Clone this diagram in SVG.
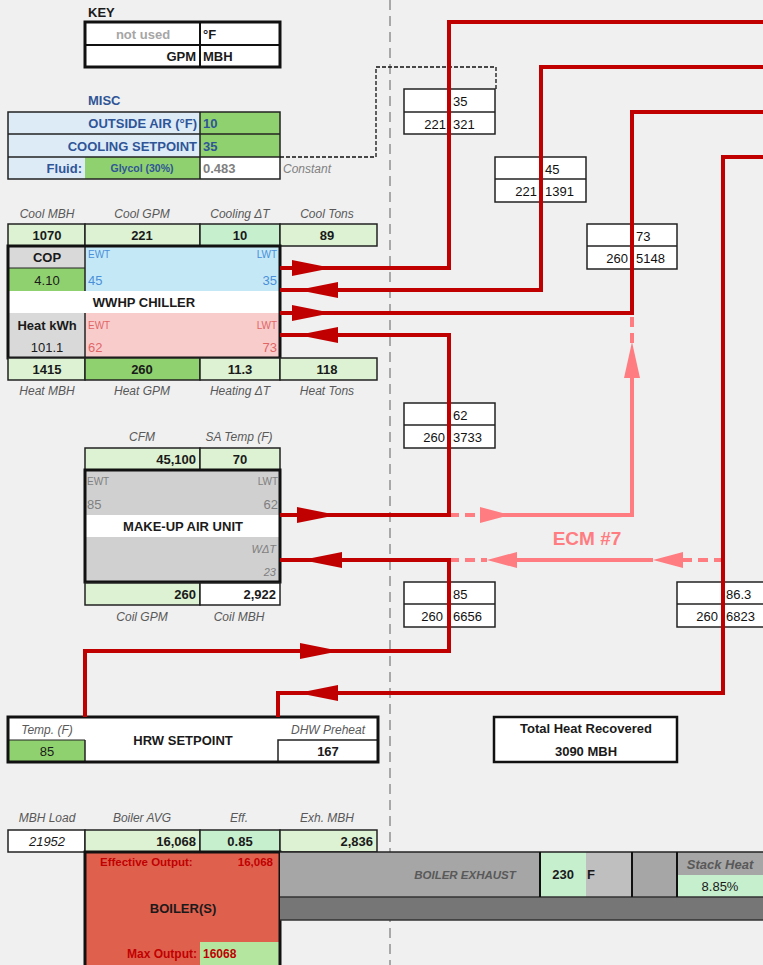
<svg xmlns="http://www.w3.org/2000/svg" width="763" height="965" viewBox="0 0 763 965">
<style>
text{font-family:"Liberation Sans",Arial,sans-serif;}
.b{font-weight:bold;font-size:13px;fill:#1a1a1a;}
.lbl{font-style:italic;font-size:12px;fill:#595959;}
.cell{stroke:#222;stroke-width:1.5;}
.thick{fill:none;stroke:#111;stroke-width:3;}
.lg{fill:#dcf2d3;}
.mg{fill:#c6efce;}
.g{fill:#8fd16e;}
.red{fill:none;stroke:#c00000;stroke-width:4;}
.pink{fill:none;stroke:#ff7c80;stroke-width:4;}
.pdash{fill:none;stroke:#ff7c80;stroke-width:4;stroke-dasharray:10 6;}
.box text{font-size:13px;fill:#111;}
.mid{text-anchor:middle;}
.end{text-anchor:end;}
</style>
<defs>
<polygon id="ah" points="0,-8 40,0 0,8"/>
</defs>
<rect x="0" y="0" width="763" height="965" fill="#f0f0f0"/>
<line x1="390" y1="0" x2="390" y2="965" stroke="#a8a8a8" stroke-width="2" stroke-dasharray="10 6"/>

<g id="key">
<text x="88" y="17" class="b" font-size="14">KEY</text>
<rect x="85" y="22" width="195" height="45" fill="#fff"/>
<line x1="85" y1="45" x2="280" y2="45" stroke="#111" stroke-width="2"/>
<line x1="200" y1="22" x2="200" y2="67" stroke="#111" stroke-width="2"/>
<rect x="85" y="22" width="195" height="45" class="thick"/>
<text x="143" y="39" class="b mid" style="fill:#a6a6a6">not used</text>
<text x="203" y="39" class="b">°F</text>
<text x="196" y="61" class="b end">GPM</text>
<text x="203" y="61" class="b">MBH</text>
</g>

<g id="misc">
<text x="88" y="105" class="b" font-size="14" style="fill:#2f5597">MISC</text>
<rect x="8" y="112" width="192" height="67" fill="#ddebf7"/>
<rect x="200" y="112" width="80" height="45" class="g"/>
<rect x="85" y="157" width="115" height="22" class="g"/>
<rect x="200" y="157" width="80" height="22" fill="#fff"/>
<rect x="8" y="112" width="272" height="67" fill="none" stroke="#222" stroke-width="1.5"/>
<line x1="8" y1="134" x2="280" y2="134" stroke="#222" stroke-width="1.5"/>
<line x1="8" y1="157" x2="280" y2="157" stroke="#222" stroke-width="1.5"/>
<line x1="200" y1="112" x2="200" y2="179" stroke="#222" stroke-width="1.5"/>
<text x="197" y="128" class="b end" font-size="12" style="fill:#2f5597">OUTSIDE AIR (°F)</text>
<text x="203" y="128" class="b" font-size="12" style="fill:#2f5597">10</text>
<text x="197" y="151" class="b end" font-size="12" style="fill:#2f5597">COOLING SETPOINT</text>
<text x="203" y="151" class="b" font-size="12" style="fill:#2f5597">35</text>
<text x="82" y="173" class="b end" style="fill:#2f5597">Fluid:</text>
<text x="142" y="172" class="mid" font-size="10.5" font-weight="bold" fill="#2f5597">Glycol (30%)</text>
<text x="203" y="173" class="b" style="fill:#808080">0.483</text>
<text x="283" y="173" class="lbl" font-size="10.5" style="fill:#808080">Constant</text>
</g>

<g id="chiller">
<text x="47" y="218" class="lbl mid">Cool MBH</text>
<text x="142" y="218" class="lbl mid">Cool GPM</text>
<text x="240" y="218" class="lbl mid">Cooling ΔT</text>
<text x="327" y="218" class="lbl mid">Cool Tons</text>
<rect x="8" y="224" width="77" height="22" class="lg cell"/>
<rect x="85" y="224" width="115" height="22" class="lg cell"/>
<rect x="200" y="224" width="80" height="22" class="mg cell"/>
<rect x="280" y="224" width="97" height="22" class="lg cell"/>
<text x="47" y="240" class="b mid">1070</text>
<text x="142" y="240" class="b mid">221</text>
<text x="240" y="240" class="b mid">10</text>
<text x="327" y="240" class="b mid">89</text>
<rect x="8" y="246" width="77" height="22" fill="#d9d9d9"/>
<rect x="8" y="268" width="77" height="23" class="g"/>
<rect x="85" y="246" width="195" height="45" fill="#c5e8f7"/>
<rect x="8" y="291" width="272" height="22" fill="#fff"/>
<rect x="8" y="313" width="77" height="45" fill="#d9d9d9"/>
<rect x="85" y="313" width="195" height="45" fill="#f9cccc"/>
<line x1="85" y1="246" x2="85" y2="291" stroke="#222" stroke-width="1.5"/>
<line x1="85" y1="313" x2="85" y2="358" stroke="#222" stroke-width="1.5"/>
<line x1="8" y1="268" x2="85" y2="268" stroke="#222" stroke-width="1"/>
<rect x="8" y="246" width="272" height="112" class="thick"/>
<text x="47" y="262" class="b mid">COP</text>
<text x="47" y="285" class="mid" font-size="13" fill="#1a1a1a">4.10</text>
<text x="88" y="258" font-size="10" fill="#4a90d9">EWT</text>
<text x="277" y="258" font-size="10" fill="#4a90d9" class="end">LWT</text>
<text x="88" y="285" font-size="13" fill="#4a90d9">45</text>
<text x="277" y="285" font-size="13" fill="#4a90d9" class="end">35</text>
<text x="144" y="307" class="b mid">WWHP CHILLER</text>
<text x="47" y="330" class="b mid">Heat kWh</text>
<text x="47" y="352" class="mid" font-size="13" fill="#1a1a1a">101.1</text>
<text x="88" y="329" font-size="10" fill="#e06666">EWT</text>
<text x="277" y="329" font-size="10" fill="#e06666" class="end">LWT</text>
<text x="88" y="352" font-size="13" fill="#e06666">62</text>
<text x="277" y="352" font-size="13" fill="#e06666" class="end">73</text>
<rect x="8" y="358" width="77" height="22" class="lg cell"/>
<rect x="85" y="358" width="115" height="22" class="g cell"/>
<rect x="200" y="358" width="80" height="22" class="lg cell"/>
<rect x="280" y="358" width="97" height="22" class="lg cell"/>
<text x="47" y="374" class="b mid">1415</text>
<text x="142" y="374" class="b mid">260</text>
<text x="240" y="374" class="b mid">11.3</text>
<text x="327" y="374" class="b mid">118</text>
<text x="47" y="395" class="lbl mid">Heat MBH</text>
<text x="142" y="395" class="lbl mid">Heat GPM</text>
<text x="240" y="395" class="lbl mid">Heating ΔT</text>
<text x="327" y="395" class="lbl mid">Heat Tons</text>
</g>

<g id="mau">
<text x="142" y="441" class="lbl mid" font-size="11">CFM</text>
<text x="239" y="441" class="lbl mid" font-size="11">SA Temp (F)</text>
<rect x="85" y="448" width="115" height="22" class="lg cell"/>
<rect x="200" y="448" width="80" height="22" class="lg cell"/>
<text x="196" y="464" class="b end">45,100</text>
<text x="240" y="464" class="b mid">70</text>
<rect x="85" y="470" width="195" height="112" fill="#d0d0d0"/>
<rect x="85" y="515" width="195" height="22" fill="#fff"/>
<rect x="85" y="470" width="195" height="112" class="thick"/>
<text x="87" y="485" font-size="10" fill="#7f7f7f">EWT</text>
<text x="278" y="485" font-size="10" fill="#7f7f7f" class="end">LWT</text>
<text x="87" y="509" font-size="13" fill="#7f7f7f">85</text>
<text x="278" y="509" font-size="13" fill="#7f7f7f" class="end">62</text>
<text x="183" y="531" class="b mid">MAKE-UP AIR UNIT</text>
<text x="276" y="553" font-size="11" font-style="italic" fill="#7f7f7f" class="end">WΔT</text>
<text x="276" y="576" font-size="11" font-style="italic" fill="#7f7f7f" class="end">23</text>
<rect x="85" y="583" width="115" height="22" class="lg cell"/>
<rect x="200" y="583" width="80" height="22" fill="#fff" class="cell"/>
<text x="196" y="599" class="b end">260</text>
<text x="276" y="599" class="b end">2,922</text>
<text x="142" y="621" class="lbl mid" font-size="13">Coil GPM</text>
<text x="239" y="621" class="lbl mid" font-size="13">Coil MBH</text>
</g>

<g id="hrw">
<rect x="8" y="717" width="370" height="45" fill="#fff"/>
<rect x="8" y="740" width="77" height="22" class="g"/>
<line x1="85" y1="740" x2="85" y2="762" stroke="#222" stroke-width="1.5"/>
<line x1="8" y1="740" x2="85" y2="740" stroke="#222" stroke-width="1"/>
<rect x="278" y="740" width="100" height="22" fill="#fff" class="cell"/>
<rect x="8" y="717" width="370" height="45" class="thick"/>
<text x="47" y="734" class="lbl mid" font-size="11">Temp. (F)</text>
<text x="47" y="756" class="mid" font-size="13" fill="#1a1a1a">85</text>
<text x="183" y="745" class="b mid" font-size="14">HRW SETPOINT</text>
<text x="328" y="734" class="lbl mid" font-size="11">DHW Preheat</text>
<text x="328" y="756" class="b mid">167</text>
</g>

<g id="total">
<rect x="494" y="717" width="183" height="45" fill="#fff" stroke="#111" stroke-width="2.5"/>
<text x="586" y="733" class="b mid">Total  Heat Recovered</text>
<text x="586" y="756" class="b mid">3090  MBH</text>
</g>

<g id="boiler">
<text x="47" y="822" class="lbl mid" font-size="11">MBH Load</text>
<text x="142" y="822" class="lbl mid" font-size="13">Boiler AVG</text>
<text x="239" y="822" class="lbl mid" font-size="13">Eff.</text>
<text x="327" y="822" class="lbl mid" font-size="13">Exh. MBH</text>
<rect x="8" y="830" width="77" height="22" fill="#fff" class="cell"/>
<rect x="85" y="830" width="115" height="22" class="lg cell"/>
<rect x="200" y="830" width="80" height="22" class="mg cell"/>
<rect x="280" y="830" width="97" height="22" class="lg cell"/>
<text x="47" y="846" class="mid" font-size="13" font-style="italic" fill="#1a1a1a">21952</text>
<text x="196" y="846" class="b end">16,068</text>
<text x="240" y="846" class="b mid">0.85</text>
<text x="373" y="846" class="b end">2,836</text>
<rect x="85" y="852" width="195" height="115" fill="#e0604e"/>
<rect x="200" y="942" width="80" height="25" fill="#b4e6a0"/>
<rect x="85" y="852" width="195" height="115" class="thick"/>
<text x="100" y="866" font-size="11.5" font-weight="bold" fill="#c00000">Effective Output:</text>
<text x="273" y="866" font-size="11.5" font-weight="bold" fill="#c00000" class="end">16,068</text>
<text x="183" y="913" class="b mid" font-size="14">BOILER(S)</text>
<text x="197" y="958" font-size="12" font-weight="bold" fill="#c00000" class="end">Max Output:</text>
<text x="203" y="958" font-size="12" font-weight="bold" fill="#c00000">16068</text>
</g>

<g id="exhaust">
<rect x="280" y="852" width="483" height="45" fill="#a6a6a6"/>
<rect x="540" y="852" width="46" height="45" fill="#c6efce"/>
<rect x="586" y="852" width="46" height="45" fill="#bfbfbf"/>
<rect x="677" y="875" width="86" height="22" fill="#c6efce"/>
<rect x="280" y="897" width="483" height="23" fill="#767676"/>
<line x1="280" y1="852" x2="763" y2="852" stroke="#222" stroke-width="1.5"/>
<line x1="280" y1="897" x2="763" y2="897" stroke="#333" stroke-width="1.5"/>
<line x1="280" y1="920" x2="763" y2="920" stroke="#333" stroke-width="1.5"/>
<line x1="540" y1="852" x2="540" y2="897" stroke="#111" stroke-width="2"/>
<line x1="632" y1="852" x2="632" y2="897" stroke="#111" stroke-width="2"/>
<line x1="677" y1="852" x2="677" y2="897" stroke="#111" stroke-width="2"/>
<text x="465" y="879" font-size="11.5" font-weight="bold" font-style="italic" fill="#595959" class="mid">BOILER EXHAUST</text>
<text x="574" y="879" class="b end">230</text>
<text x="587" y="879" class="b">F</text>
<text x="720" y="869" font-size="13" font-weight="bold" font-style="italic" fill="#595959" class="mid">Stack Heat</text>
<text x="720" y="891" font-size="13" fill="#1a1a1a" class="mid">8.85%</text>
</g>

<g id="boxes" class="box">
<g id="b35"><rect x="404" y="89" width="91" height="45" fill="#fff" stroke="#222" stroke-width="1.5"/><line x1="404" y1="112" x2="495" y2="112" stroke="#222" stroke-width="1.5"/><text x="453" y="106">35</text><text x="446" y="129" class="end">221</text><text x="453" y="129">321</text></g>
<g id="b45"><rect x="495" y="157" width="91" height="45" fill="#fff" stroke="#222" stroke-width="1.5"/><line x1="495" y1="179" x2="586" y2="179" stroke="#222" stroke-width="1.5"/><text x="545" y="174">45</text><text x="537" y="196" class="end">221</text><text x="545" y="196">1391</text></g>
<g id="b73"><rect x="587" y="224" width="90" height="45" fill="#fff" stroke="#222" stroke-width="1.5"/><line x1="587" y1="246" x2="677" y2="246" stroke="#222" stroke-width="1.5"/><text x="636" y="241">73</text><text x="628" y="263" class="end">260</text><text x="636" y="263">5148</text></g>
<g id="b62"><rect x="404" y="403" width="91" height="45" fill="#fff" stroke="#222" stroke-width="1.5"/><line x1="404" y1="425" x2="495" y2="425" stroke="#222" stroke-width="1.5"/><text x="453" y="420">62</text><text x="445" y="442" class="end">260</text><text x="453" y="442">3733</text></g>
<g id="b85"><rect x="404" y="582" width="91" height="45" fill="#fff" stroke="#222" stroke-width="1.5"/><line x1="404" y1="604" x2="495" y2="604" stroke="#222" stroke-width="1.5"/><text x="453" y="599">85</text><text x="443" y="621" class="end">260</text><text x="453" y="621">6656</text></g>
<g id="b863"><rect x="677" y="582" width="91" height="45" fill="#fff" stroke="#222" stroke-width="1.5"/><line x1="677" y1="604" x2="768" y2="604" stroke="#222" stroke-width="1.5"/><text x="726" y="599">86.3</text><text x="718" y="621" class="end">260</text><text x="726" y="621">6823</text></g>
</g>

<g id="connectors">
<path d="M280,157 H376 V67 H496 V89" fill="none" stroke="#111" stroke-width="1.3" stroke-dasharray="4 2"/>
<path class="pdash" d="M449,515 H485"/>
<path class="pink" d="M485,515 H632 V378"/>
<path class="pdash" d="M632,343 V317"/>
<path class="pdash" d="M449,560 H487"/>
<path class="pink" d="M517,560 H653"/>
<path class="pdash" d="M682,560 H722"/>
<g fill="#ff7c80">
<use href="#ah" transform="translate(480,515) scale(0.75,1)"/>
<use href="#ah" transform="translate(632,378) rotate(-90) scale(0.9,1)"/>
<use href="#ah" transform="translate(517,560) rotate(180) scale(0.75,1)"/>
<use href="#ah" transform="translate(683,560) rotate(180) scale(0.75,1)"/>
</g>
<text x="587" y="545" font-size="19" font-weight="bold" fill="#ff7c80" class="mid">ECM #7</text>
<path class="red" d="M280,268 H449 V22 H763"/>
<path class="red" d="M763,67 H541 V290 H280"/>
<path class="red" d="M280,313 H632 V112 H763"/>
<path class="red" d="M763,157 H723 V693 H278 V717"/>
<path class="red" d="M280,515 H449 V335 H280"/>
<path class="red" d="M85,717 V651 H449 V560 H280"/>
<g fill="#c00000">
<use href="#ah" transform="translate(292,268)"/>
<use href="#ah" transform="translate(338,290) rotate(180)"/>
<use href="#ah" transform="translate(292,313)"/>
<use href="#ah" transform="translate(338,335) rotate(180)"/>
<use href="#ah" transform="translate(297,515)"/>
<use href="#ah" transform="translate(342,560) rotate(180)"/>
<use href="#ah" transform="translate(300,651)"/>
<use href="#ah" transform="translate(338,693) rotate(180)"/>
</g>
</g>
</svg>
